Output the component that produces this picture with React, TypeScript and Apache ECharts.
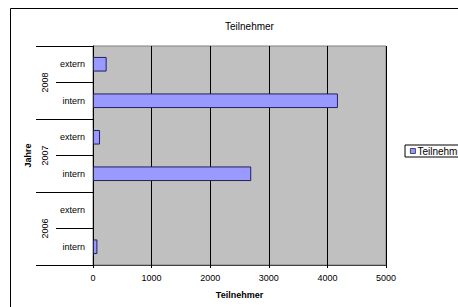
import React, { useEffect, useRef } from "react";
import * as echarts from "echarts";

const title = "Teilnehmer";
const seriesName = "Teilnehmer";
const innerCategories = ["intern", "extern", "intern", "extern", "intern", "extern"];
const yearCategories = ["2006", "2007", "2008"];
const values = [75, 0, 2700, 120, 4180, 233];
const xTicks = { min: 0, max: 5000, interval: 1000 };

const FONT = "'Liberation Sans', Arial, sans-serif";

export default function App() {
  const ref = useRef<HTMLDivElement>(null);
  useEffect(() => {
    if (!ref.current) return;
    const chart = echarts.init(ref.current, undefined, { renderer: "svg" });
    chart.setOption({
      animation: false,
      backgroundColor: "#ffffff",
      textStyle: { fontFamily: FONT },
      title: {
        text: title,
        left: 220,
        top: 16,
        textStyle: { fontSize: 10, fontWeight: "normal", color: "#000", fontFamily: FONT },
      },
      legend: {
        left: 405,
        top: 145,
        padding: [1, 4, 1, 5],
        itemWidth: 5,
        itemHeight: 5,
        itemGap: 2,
        icon: "rect",
        borderColor: "#000",
        borderWidth: 1,
        itemStyle: { color: "#9999ff", borderColor: "#222255", borderWidth: 0.8 },
        textStyle: { fontSize: 10, color: "#000", fontFamily: FONT, padding: [0, 0, 0, -3] },
        data: [seriesName],
      },
      graphic: [
        {
          type: "rect",
          shape: { x: 10.5, y: 8.5, width: 480, height: 320 },
          style: { fill: "none", stroke: "#000", lineWidth: 1 },
          z: -1,
          silent: true,
        },
      ],
      grid: {
        left: 93,
        top: 46,
        width: 293,
        height: 219,
        show: true,
        backgroundColor: "#c0c0c0",
        borderColor: "#808080",
        borderWidth: 1,
      },
      xAxis: {
        type: "value",
        min: xTicks.min,
        max: xTicks.max,
        interval: xTicks.interval,
        name: "Teilnehmer",
        nameLocation: "middle",
        nameGap: 25,
        nameTextStyle: { fontSize: 9, fontWeight: "bold", color: "#000", fontFamily: FONT },
        axisLine: { show: true, lineStyle: { color: "#404040", width: 1 } },
        axisTick: { show: true, length: 3, lineStyle: { color: "#000" } },
        axisLabel: {
          fontSize: 9,
          color: "#000",
          margin: 8,
          fontFamily: FONT,
          formatter: (v: number) => String(v),
        },
        splitLine: { show: true, lineStyle: { color: "#000", width: 1 } },
      },
      yAxis: [
        {
          type: "category",
          data: innerCategories,
          position: "left",
          axisLine: { show: true, lineStyle: { color: "#000" } },
          axisTick: { show: true, length: 37, lineStyle: { color: "#000" } },
          axisLabel: { fontSize: 9, color: "#000", margin: 8, fontFamily: FONT },
          splitLine: { show: false },
        },
        {
          type: "category",
          data: yearCategories,
          position: "left",
          name: "Jahre",
          nameLocation: "middle",
          nameRotate: 90,
          nameGap: 55,
          nameTextStyle: { fontSize: 9, fontWeight: "bold", color: "#000", fontFamily: FONT },
          axisLine: { show: false },
          axisTick: { show: true, length: 57, lineStyle: { color: "#000" } },
          axisLabel: { fontSize: 9, color: "#000", rotate: 90, margin: 44, fontFamily: FONT },
          splitLine: { show: false },
        },
      ],
      series: [
        {
          name: seriesName,
          type: "bar",
          yAxisIndex: 0,
          data: values.map((v) =>
            v === 0 ? { value: v, itemStyle: { borderWidth: 0, opacity: 0 } } : v
          ),
          barWidth: "40%",
          itemStyle: { color: "#9999ff", borderColor: "#222255", borderWidth: 1 },
        },
      ],
    });
    return () => chart.dispose();
  }, []);
  return (
    <div
      ref={ref}
      style={{ position: "fixed", left: 0, top: 0, width: 458, height: 307 }}
    />
  );
}
